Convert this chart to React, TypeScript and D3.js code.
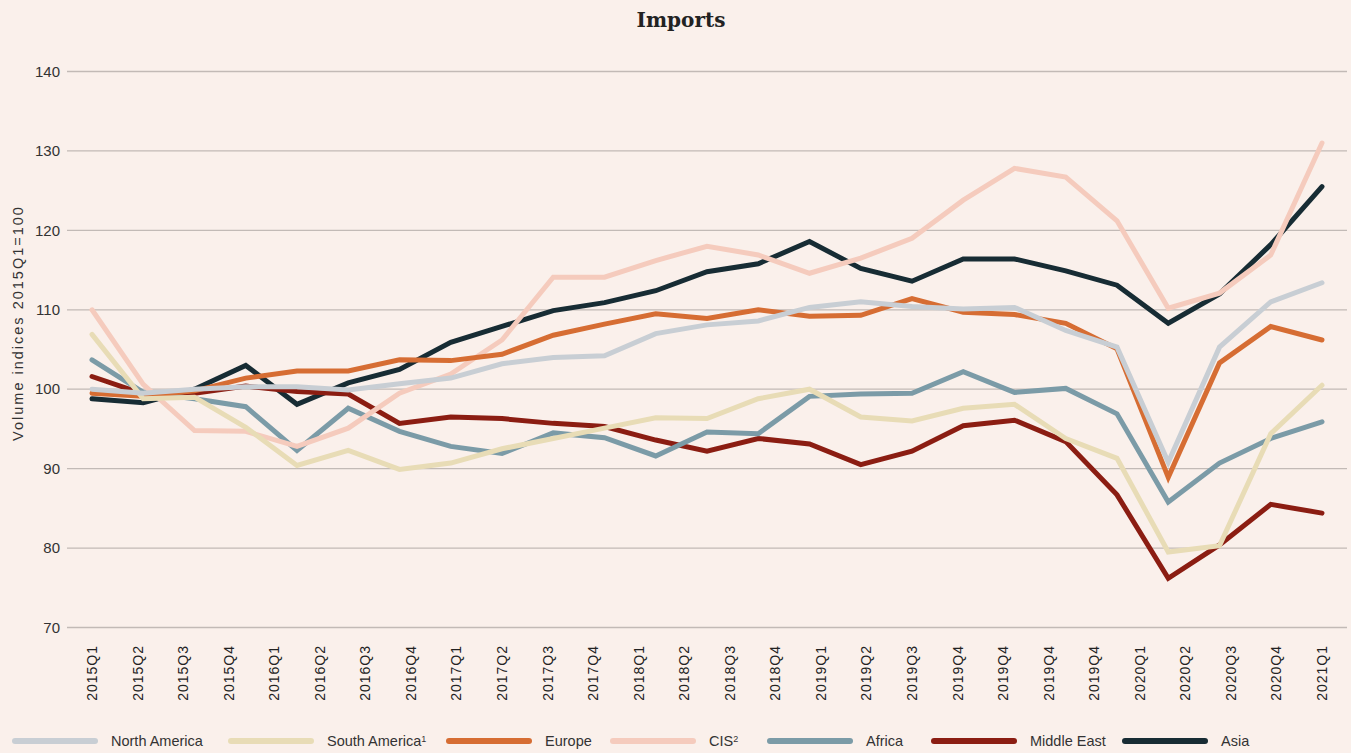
import React from "react";
import * as d3 from "d3";

const quarters = [
  "2015Q1","2015Q2","2015Q3","2015Q4","2016Q1","2016Q2","2016Q3","2016Q4",
  "2017Q1","2017Q2","2017Q3","2017Q4","2018Q1","2018Q2","2018Q3","2018Q4",
  "2019Q1","2019Q2","2019Q3","2019Q4","2020Q1","2020Q2","2020Q3","2020Q4","2021Q1",
];

const tickLabels = [
  "2015Q1","2015Q2","2015Q3","2015Q4","2016Q1","2016Q2","2016Q3","2016Q4",
  "2017Q1","2017Q2","2017Q3","2017Q4","2018Q1","2018Q2","2018Q3","2018Q4",
  "2019Q1","2019Q2","2019Q3","2019Q4","2019Q4","2019Q4","2019Q4",
  "2020Q1","2020Q2","2020Q3","2020Q4","2021Q1",
];

const yTicks = [70, 80, 90, 100, 110, 120, 130, 140];

const northAmerica = [100.0,99.5,100.0,100.3,100.3,99.9,100.7,101.4,103.2,104.0,104.2,107.0,108.1,108.6,110.3,111.0,110.4,110.1,110.3,107.4,105.3,90.8,105.3,111.0,113.4];
const southAmerica = [106.9,98.8,99.0,95.2,90.4,92.3,89.9,90.7,92.5,93.8,95.1,96.4,96.3,98.8,100.0,96.5,96.0,97.6,98.1,93.8,91.3,79.5,80.3,94.4,100.5];
const europe = [99.5,99.1,99.8,101.4,102.3,102.3,103.7,103.6,104.4,106.8,108.2,109.5,108.9,110.0,109.2,109.3,111.4,109.7,109.4,108.3,105.1,88.9,103.3,107.9,106.2];
const cis = [110.0,100.6,94.8,94.7,92.8,95.1,99.5,101.9,106.2,114.1,114.1,116.2,118.0,116.9,114.6,116.5,119.0,123.8,127.8,126.7,121.2,110.2,112.1,116.9,131.0];
const africa = [103.7,99.6,98.8,97.8,92.3,97.6,94.7,92.8,91.9,94.5,93.9,91.6,94.6,94.4,99.1,99.4,99.5,102.2,99.6,100.1,96.9,85.8,90.7,93.8,95.9];
const middleEast = [101.6,99.4,99.5,100.4,99.7,99.4,95.7,96.5,96.3,95.7,95.3,93.6,92.2,93.8,93.1,90.5,92.2,95.4,96.1,93.4,86.7,76.2,80.4,85.5,84.4];
const asia = [98.8,98.3,100.0,103.0,98.1,100.8,102.5,105.9,107.9,109.9,110.9,112.4,114.8,115.8,118.6,115.2,113.6,116.4,116.4,114.9,113.1,108.3,112.0,118.2,125.5];

const seriesNames = ["North America", "South America", "Europe", "CIS", "Africa", "Middle East", "Asia"];
const seriesSup = ["", "1", "", "2", "", "", ""];
const seriesValues = [northAmerica, southAmerica, europe, cis, africa, middleEast, asia];
const seriesColors = ["#c8ced4", "#e8dcb6", "#d66d33", "#f5cbbd", "#7b9ba7", "#8b1d12", "#172c34"];

const legendX = [13, 229, 447, 611, 768, 932, 1123];

const W = 1351;
const H = 753;
const font = "'Liberation Sans', Arial, sans-serif";

export default function App() {
  const x = d3.scalePoint<number>().domain(d3.range(quarters.length)).range([92, 1322]);
  const xt = d3.scalePoint<number>().domain(d3.range(tickLabels.length)).range([92, 1322]);
  const y = d3.scaleLinear().domain([70, 140]).range([627.5, 71.5]);
  const line = d3
    .line<number>()
    .x((_, i) => x(i) as number)
    .y((d) => y(d));

  const order = d3.range(seriesValues.length).reverse();

  return (
    <svg
      width={W}
      height={H}
      style={{ position: "absolute", left: 0, top: 0, display: "block" }}
    >
      <rect x={0} y={0} width={W} height={H} fill="#faf0eb" />
      <text
        x={681}
        y={27}
        textAnchor="middle"
        fontFamily="'DejaVu Serif', serif"
        fontWeight="bold"
        fontSize={20}
        fill="#222"
      >
        Imports
      </text>
      {yTicks.map((t) => (
        <g key={t}>
          <line x1={67} x2={1347} y1={y(t)} y2={y(t)} stroke="#c2bab6" strokeWidth={1.3} />
          <text
            x={60}
            y={y(t)}
            dy="0.35em"
            textAnchor="end"
            fontFamily={font}
            fontSize={15}
            fill="#333"
          >
            {t}
          </text>
        </g>
      ))}
      <text
        transform={`translate(23,${323}) rotate(-90)`}
        textAnchor="middle"
        fontFamily={font}
        fontSize={14.5}
        letterSpacing={2}
        fill="#333"
      >
        Volume indices 2015Q1=100
      </text>
      {tickLabels.map((lab, i) => (
        <text
          key={i}
          transform={`translate(${(xt(i) as number) + 5},645) rotate(-90)`}
          textAnchor="end"
          fontFamily={font}
          fontSize={14}
          letterSpacing={1}
          fill="#222"
        >
          {lab}
        </text>
      ))}
      {order.map((k) => (
        <path
          key={seriesNames[k]}
          d={line(seriesValues[k]) || ""}
          fill="none"
          stroke={seriesColors[k]}
          strokeWidth={5}
          strokeLinejoin="miter"
          strokeLinecap="round"
        />
      ))}
      {seriesNames.map((name, k) => (
        <g key={name} transform={`translate(${legendX[k]},741)`}>
          <line x1={2} x2={82} y1={0} y2={0} stroke={seriesColors[k]} strokeWidth={6} strokeLinecap="round" />
          <text x={98} y={0} dy="0.35em" fontFamily={font} fontSize={14.5} fill="#333">
            {name}
            {seriesSup[k] && (
              <tspan dy="-0.45em" fontSize={9}>
                {seriesSup[k]}
              </tspan>
            )}
          </text>
        </g>
      ))}
    </svg>
  );
}
